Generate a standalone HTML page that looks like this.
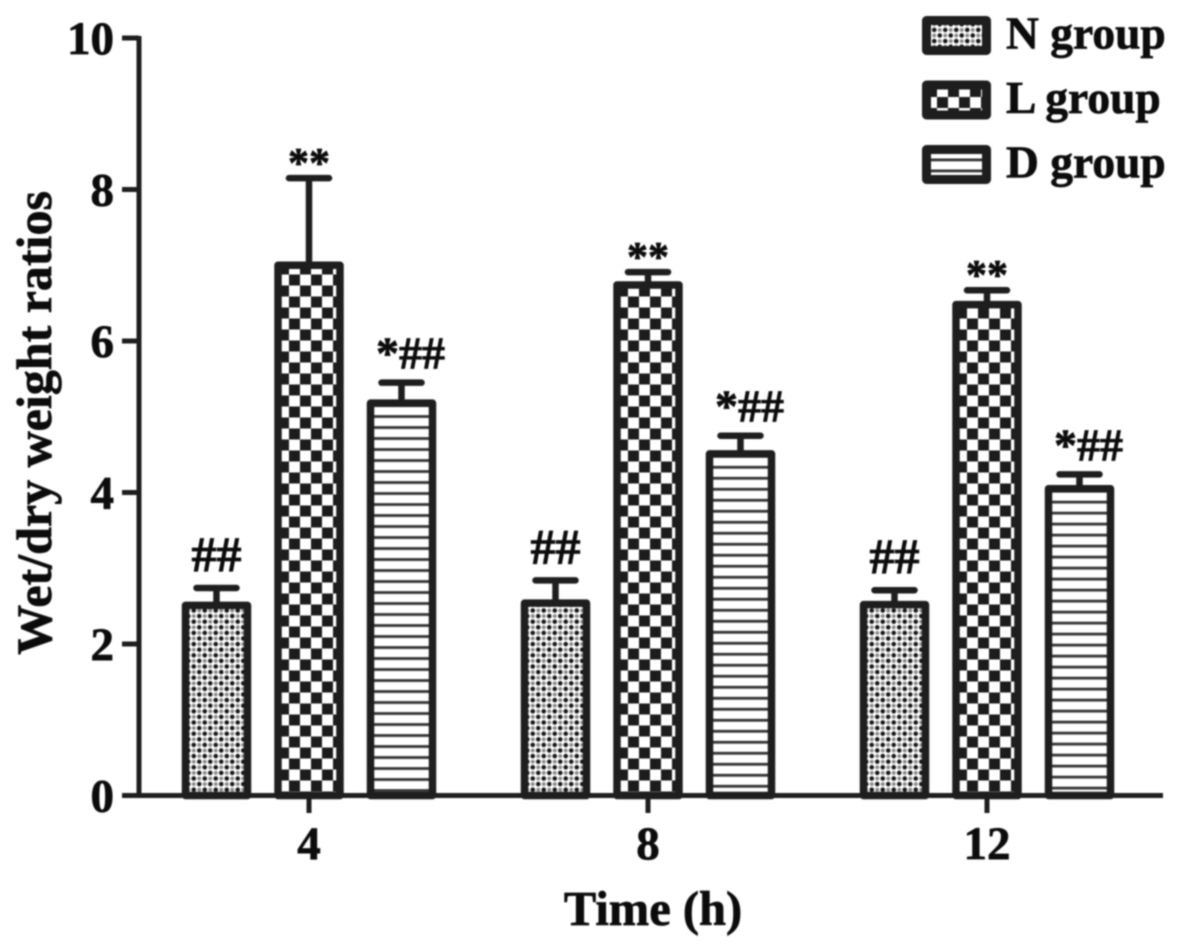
<!DOCTYPE html>
<html>
<head>
<meta charset="utf-8">
<title>Wet/dry weight ratios</title>
<style>
html,body{margin:0;padding:0;background:#fff;width:1181px;height:952px;overflow:hidden}
svg{display:block;filter:blur(0.8px)}
text{font-family:"Liberation Serif",serif;font-weight:bold;fill:#0c0c0c;stroke:#0c0c0c;stroke-width:0.7px}
</style>
</head>
<body>
<svg id="chart" width="1181" height="952" viewBox="0 0 1181 952" xmlns="http://www.w3.org/2000/svg">
<defs id="defs"></defs>
<g id="bars"></g>
<g id="axes"></g>
<g id="legend"></g>
<text transform="translate(51,423) rotate(-90)" text-anchor="middle" font-size="50">Wet/dry weight ratios</text>
<text x="653" y="925" text-anchor="middle" font-size="48.5">Time (h)</text>
</svg>
<script>
const categories = ['4', '8', '12'];
const seriesNames = ['N group', 'L group', 'D group'];
const nValues = [2.51, 2.54, 2.52];
const lValues = [7.0, 6.74, 6.48];
const dValues = [5.18, 4.51, 4.05];
const nErrors = [0.23, 0.3, 0.19];
const lErrors = [1.15, 0.17, 0.19];
const dErrors = [0.27, 0.24, 0.19];
const nMarks = ['##', '##', '##'];
const lMarks = ['**', '**', '**'];
const dMarks = ['*##', '*##', '*##'];
const yTicks = [0, 2, 4, 6, 8, 10];

const svgNS = 'http://www.w3.org/2000/svg';
const INK = '#1e1e1e';
const BAR_STROKE = 7.5;
const yScale = v => 795.5 - v * 75.75;
const xScale = i => 309 + i * 339;
const barOffset = s => (s - 1) * 92.5;
const BAR_W = 62;
const LABEL_GAP = s => (s === 0 ? 17 : s === 1 ? 1 : 14);
const LABEL_SIZE = s => (s === 0 ? 50 : s === 1 ? 42 : 46);

function make(tag, attrs, parent) {
  const el = document.createElementNS(svgNS, tag);
  for (const k in attrs) el.setAttribute(k, attrs[k]);
  parent.appendChild(el);
  return el;
}
const defs = document.getElementById('defs');
function makePattern(id, kind, ox, oy) {
  const size = kind === 0 ? [11, 11.2] : kind === 1 ? [22, 22] : [11, 11];
  const p = make('pattern', {id: id, patternUnits: 'userSpaceOnUse', x: ox, y: oy, width: size[0], height: size[1]}, defs);
  if (kind === 0) {
    make('circle', {cx: 2.75, cy: 2.8, r: 2.3, fill: '#161616'}, p);
    make('circle', {cx: 8.25, cy: 8.4, r: 2.3, fill: '#161616'}, p);
    make('circle', {cx: 8.25, cy: 2.8, r: 2, fill: '#8a8a8a'}, p);
    make('circle', {cx: 2.75, cy: 8.4, r: 2, fill: '#8a8a8a'}, p);
  } else if (kind === 1) {
    make('rect', {x: 0, y: 0, width: 11, height: 11, fill: '#1c1c1c'}, p);
    make('rect', {x: 11, y: 11, width: 11, height: 11, fill: '#1c1c1c'}, p);
  } else {
    make('rect', {x: 0, y: 0, width: 11, height: 2.8, fill: '#333'}, p);
  }
  return 'url(#' + id + ')';
}

const barsG = document.getElementById('bars');
const seriesValues = [nValues, lValues, dValues];
const seriesErrors = [nErrors, lErrors, dErrors];
const seriesMarks = [nMarks, lMarks, dMarks];
const seriesKeys = ['n', 'l', 'd'];

categories.forEach((cat, i) => {
  seriesValues.forEach((vals, s) => {
    const cx = xScale(i) + barOffset(s);
    const left = cx - BAR_W / 2;
    const top = yScale(vals[i]);
    const bottom = yScale(0);
    const errTop = yScale(vals[i] + seriesErrors[s][i]);
    const fill = makePattern('pat-' + s + '-' + i, s, left, s === 1 ? bottom - 4 : s === 0 ? bottom - 3 : top + 12);

    const stem = make('line', {x1: cx, x2: cx, y1: top, y2: errTop, stroke: INK, 'stroke-width': 6.5}, barsG);
    
    
    const cap = make('line', {x1: cx - 20, x2: cx + 20, y1: errTop, y2: errTop, stroke: INK, 'stroke-width': 6.5, 'stroke-linecap': 'round'}, barsG);
    
    

    const bar = make('rect', {x: left, y: top, width: BAR_W, height: bottom - top, fill: '#fff'}, barsG);
    
    
    const mark = make('rect', {x: left, y: top, width: BAR_W, height: bottom - top, fill: fill, stroke: INK, 'stroke-width': BAR_STROKE, 'stroke-linejoin': 'round'}, barsG);
    
    

    const label = make('text', {x: cx + (s === 2 ? 9 : 0), y: errTop - LABEL_GAP(s), 'text-anchor': 'middle', 'font-size': LABEL_SIZE(s)}, barsG);
    label.textContent = seriesMarks[s][i];
    
    
  });
});

const axesG = document.getElementById('axes');
const yAxis = make('line', {x1: 139, x2: 139, y1: yScale(10) - 2, y2: yScale(0), stroke: INK, 'stroke-width': 5}, axesG);


const xAxis = make('line', {x1: 122, x2: 1163, y1: yScale(0), y2: yScale(0), stroke: INK, 'stroke-width': 5}, axesG);



yTicks.forEach(t => {
  const y = yScale(t);
  const tick = make('line', {x1: 122, x2: 139, y1: y, y2: y, stroke: INK, 'stroke-width': 5}, axesG);
  
  
  const lab = make('text', {x: 114, y: y + 16, 'text-anchor': 'end', 'font-size': 47}, axesG);
  lab.textContent = t;
  
  
});
categories.forEach((c, i) => {
  const x = xScale(i);
  const tick = make('line', {x1: x, x2: x, y1: yScale(0), y2: 813, stroke: INK, 'stroke-width': 5}, axesG);
  
  
  const lab = make('text', {x: x, y: 859, 'text-anchor': 'middle', 'font-size': 47}, axesG);
  lab.textContent = c;
  
  
});

const legendG = document.getElementById('legend');
seriesNames.forEach((name, s) => {
  const top = 20.5 + s * 64.5;
  const fill = makePattern('leg-' + s, s, 926, s === 2 ? top + 9 : top + 1);
  const key = make('rect', {x: 926.5, y: top, width: 60, height: 30, fill: '#fff'}, legendG);
  
  
  const sw = make('rect', {x: 926.5, y: top, width: 60, height: 30, fill: fill, stroke: INK, 'stroke-width': 9, 'stroke-linejoin': 'round'}, legendG);
  
  
  const txt = make('text', {x: 1006, y: top + 28, 'font-size': 45.5}, legendG);
  txt.textContent = name;
  
  
});
</script>
</body>
</html>
